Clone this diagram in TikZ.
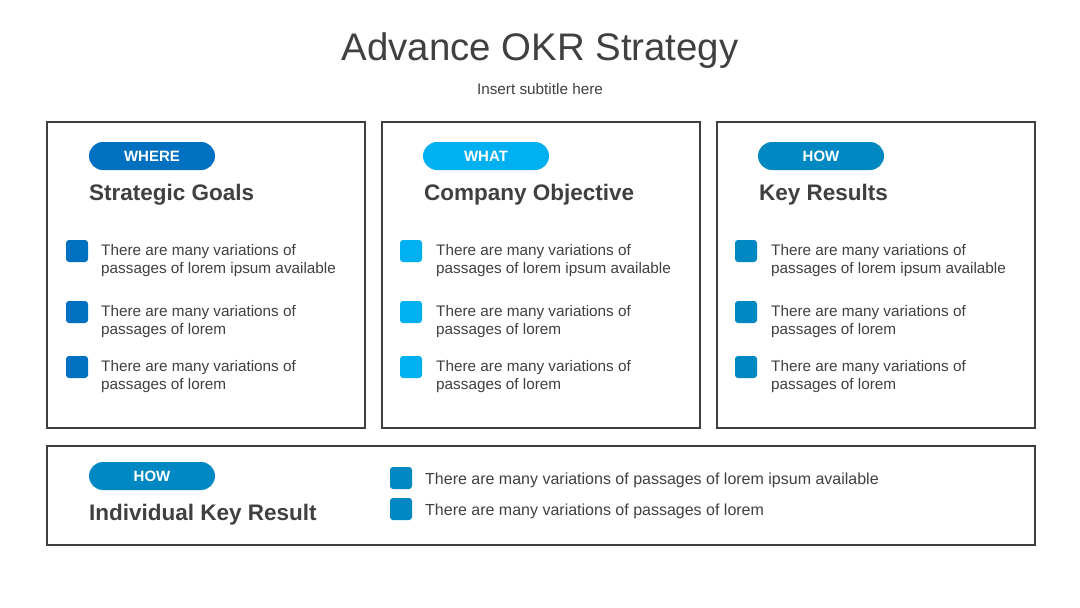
\documentclass[tikz,border=0pt]{standalone}
\usepackage{fontspec}
\setmainfont{Liberation Sans}
\usetikzlibrary{positioning}
\definecolor{txt}{HTML}{404040}
\definecolor{frame}{HTML}{3F3F3F}
\definecolor{cwhere}{HTML}{0070C0}
\definecolor{cwhat}{HTML}{00B0F0}
\definecolor{chow}{HTML}{0088C2}
\tikzset{
  panel/.style={draw=frame, line width=1.8pt, fill=white, anchor=north west, inner sep=0},
  pill/.style={fill=#1, rounded corners=14pt, minimum width=126pt, minimum height=28pt, inner sep=0,
    text=white, font=\fontsize{15}{18}\selectfont\bfseries},
  head/.style={anchor=base west, inner sep=0, text=txt, font=\fontsize{22.5}{26}\selectfont\bfseries},
  bullet/.style={fill=#1, rounded corners=3pt, minimum width=22pt, minimum height=22pt, inner sep=0},
  body/.style={anchor=west, inner sep=0, text=txt, align=left, font=\fontsize{15.3}{18}\selectfont},
  wide/.style={anchor=west, inner sep=0, text=txt, font=\fontsize{16}{19}\selectfont},
}
\begin{document}
\begin{tikzpicture}[x=1pt, y=-1pt]
\useasboundingbox (0,0) rectangle (1080,608);
\fill[white] (0,0) rectangle (1080,608);
\node[anchor=base, inner sep=0, text=txt, font=\fontsize{38.4}{46}\selectfont] (title) at (540,60.5) {Advance OKR Strategy};
\node[text=txt, font=\fontsize{15.3}{18}\selectfont] (sub) at (540,89) {Insert subtitle here};

% panels
\node[panel, minimum width=318pt, minimum height=306pt] (p1) at (46,121) {};
\node[panel, minimum width=318pt, minimum height=306pt] (p2) at (381,121) {};
\node[panel, minimum width=318pt, minimum height=306pt] (p3) at (716,121) {};
\node[panel, minimum width=988pt, minimum height=99pt] (p4) at (46,445) {};

% panel 1
\node[pill=cwhere] (t1) at (152,156) {WHERE};
\node[head] (h1) at (89,200.5) {Strategic Goals};
\node[bullet=cwhere] (b11) at (77,251) {};
\node[body] (s11) at (101,261) {There are many variations of\\passages of lorem ipsum available};
\node[bullet=cwhere] (b12) at (77,312) {};
\node[body] (s12) at (101,322) {There are many variations of\\passages of lorem};
\node[bullet=cwhere] (b13) at (77,367) {};
\node[body] (s13) at (101,377) {There are many variations of\\passages of lorem};

% panel 2
\node[pill=cwhat] (t2) at (486,156) {WHAT};
\node[head] (h2) at (424,200.5) {Company Objective};
\node[bullet=cwhat] (b21) at (411,251) {};
\node[body] (s21) at (436,261) {There are many variations of\\passages of lorem ipsum available};
\node[bullet=cwhat] (b22) at (411,312) {};
\node[body] (s22) at (436,322) {There are many variations of\\passages of lorem};
\node[bullet=cwhat] (b23) at (411,367) {};
\node[body] (s23) at (436,377) {There are many variations of\\passages of lorem};

% panel 3
\node[pill=chow] (t3) at (821,156) {HOW};
\node[head] (h3) at (759,200.5) {Key Results};
\node[bullet=chow] (b31) at (746,251) {};
\node[body] (s31) at (771,261) {There are many variations of\\passages of lorem ipsum available};
\node[bullet=chow] (b32) at (746,312) {};
\node[body] (s32) at (771,322) {There are many variations of\\passages of lorem};
\node[bullet=chow] (b33) at (746,367) {};
\node[body] (s33) at (771,377) {There are many variations of\\passages of lorem};

% bottom panel
\node[pill=chow] (t4) at (152,476) {HOW};
\node[head] (h4) at (89,520.5) {Individual Key Result};
\node[bullet=chow] (b41) at (401,478) {};
\node[wide] (s41) at (425,480) {There are many variations of passages of lorem ipsum available};
\node[bullet=chow] (b42) at (401,509) {};
\node[wide] (s42) at (425,511) {There are many variations of passages of lorem};
\end{tikzpicture}
\end{document}
